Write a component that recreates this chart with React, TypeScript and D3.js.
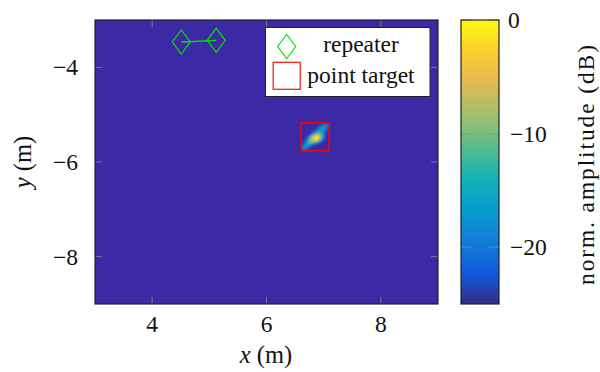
import React from 'react';
import * as d3 from 'd3';

// parula colormap (pgfplots definition)
const parulaStops = [
  '#352a87', '#0f5cdd', '#127dd8', '#079ccf', '#15b1b4',
  '#59bd8c', '#a5be6b', '#e1b952', '#fcce2e', '#f9fb0e',
];

// axis ticks
const xTicks = [4, 6, 8];
const yTicks = [-4, -6, -8];
const cbTicks = [0, -10, -20];

// repeater positions (m)
const repeaterX = [4.51, 5.12];
const repeaterY = [-3.465, -3.43];

// point target box centre (m)
const targetX = 6.85;
const targetY = -5.47;

// image patch around the target, dB values (rows top -> bottom)
const patchX0 = 6.62;
const patchY0 = -5.2;
const patchDx = 0.04;
const patchDy = 0.05;
const patchDb = [
  [-25, -25, -25, -25, -25, -25, -25, -24, -21, -18, -17, -19],
  [-25, -25, -25, -25, -25, -25, -24, -20, -17, -16, -18, -22],
  [-25, -25, -25, -25, -25, -24, -21, -17, -15, -17, -21, -25],
  [-25, -25, -25, -25, -23, -19, -15, -13, -14, -19, -24, -25],
  [-25, -25, -25, -22, -16, -10, -7, -8, -12, -19, -25, -25],
  [-25, -25, -22, -14, -7, -2, -1, -3, -10, -18, -25, -25],
  [-25, -24, -18, -10, -5, -1, -1, -6, -14, -22, -25, -25],
  [-25, -21, -14, -11, -9, -10, -13, -19, -23, -25, -25, -25],
  [-23, -17, -14, -15, -18, -22, -25, -25, -25, -25, -25, -25],
  [-19, -15, -17, -21, -24, -25, -25, -25, -25, -25, -25, -25],
  [-18, -19, -23, -25, -25, -25, -25, -25, -25, -25, -25, -25],
];

const FONT = '"Liberation Serif", "Times New Roman", serif';
const FS = 23.5;

export default function App() {
  const W = 600;
  const H = 372;
  const plot = { left: 95, top: 20, right: 438, bottom: 304 };
  const cb = { left: 461, right: 499 };

  const x = d3.scaleLinear().domain([3, 9]).range([plot.left, plot.right]);
  const y = d3.scaleLinear().domain([-9, -3]).range([plot.bottom, plot.top]);
  const cy = d3.scaleLinear().domain([-25, 0]).range([plot.bottom, plot.top]);
  const color = d3
    .scaleLinear<string>()
    .domain(parulaStops.map((_, i) => -25 + (25 * i) / (parulaStops.length - 1)))
    .range(parulaStops)
    .interpolate(d3.interpolateRgb)
    .clamp(true);

  const cells = [];
  patchDb.forEach((row, j) => {
    row.forEach((v, i) => {
      if (v <= -24.5) return;
      const x0 = patchX0 + i * patchDx;
      const y0 = patchY0 - j * patchDy;
      cells.push({ x0, x1: x0 + patchDx, y0, y1: y0 - patchDy, v });
    });
  });

  const tickLen = 7;
  const tickColor = '#8a8a8a';
  const dW = 9;
  const dH = 12;
  const diamond = (cx: number, cyy: number) =>
    `M${cx},${cyy - dH}L${cx + dW},${cyy}L${cx},${cyy + dH}L${cx - dW},${cyy}Z`;

  const green = '#00e600';
  const legend = { x: 265.5, y: 27.5, w: 164.5, h: 69 };

  return (
    <svg
      width={W}
      height={H}
      style={{ position: 'absolute', left: 0, top: 0, background: '#fff' }}
      fontFamily={FONT}
    >
      <defs>
        <linearGradient id="cbgrad" x1="0" y1="1" x2="0" y2="0">
          {parulaStops.map((c, i) => (
            <stop key={i} offset={i / (parulaStops.length - 1)} stopColor={c} />
          ))}
        </linearGradient>
        <filter id="smooth" x="-20%" y="-20%" width="140%" height="140%">
          <feGaussianBlur stdDeviation="0.8" />
        </filter>
        <clipPath id="plotclip">
          <rect x={plot.left} y={plot.top} width={plot.right - plot.left} height={plot.bottom - plot.top} />
        </clipPath>
      </defs>

      {/* image background (floor level) */}
      <rect
        x={plot.left}
        y={plot.top}
        width={plot.right - plot.left}
        height={plot.bottom - plot.top}
        fill="#3c29a6"
      />
      <g filter="url(#smooth)" clipPath="url(#plotclip)">
        {cells.map((c, k) => (
          <rect
            key={k}
            x={x(c.x0)}
            y={y(c.y0)}
            width={x(c.x1) - x(c.x0) + 0.3}
            height={y(c.y1) - y(c.y0) + 0.3}
            fill={color(c.v)}
          />
        ))}
      </g>

      {/* ticks */}
      {xTicks.map((t) => (
        <g key={'xt' + t} stroke={tickColor} strokeWidth={0.8}>
          <line x1={x(t)} x2={x(t)} y1={plot.bottom} y2={plot.bottom - tickLen} />
          <line x1={x(t)} x2={x(t)} y1={plot.top} y2={plot.top + tickLen} />
        </g>
      ))}
      {yTicks.map((t) => (
        <g key={'yt' + t} stroke={tickColor} strokeWidth={0.8}>
          <line x1={plot.left} x2={plot.left + tickLen} y1={y(t)} y2={y(t)} />
          <line x1={plot.right} x2={plot.right - tickLen} y1={y(t)} y2={y(t)} />
        </g>
      ))}

      {/* repeaters */}
      <line
        x1={x(repeaterX[0])}
        y1={y(repeaterY[0])}
        x2={x(repeaterX[1])}
        y2={y(repeaterY[1])}
        stroke={green}
        strokeWidth={1.4}
      />
      {repeaterX.map((rx, i) => (
        <path key={'rep' + i} d={diamond(x(rx), y(repeaterY[i]))} fill="none" stroke={green} strokeWidth={1.2} />
      ))}

      {/* point target */}
      <rect
        x={x(targetX) - 14}
        y={y(targetY) - 14}
        width={28}
        height={28}
        fill="none"
        stroke="#ff0000"
        strokeWidth={1.6}
      />

      {/* plot frame */}
      <rect
        x={plot.left}
        y={plot.top}
        width={plot.right - plot.left}
        height={plot.bottom - plot.top}
        fill="none"
        stroke="#222"
        strokeWidth={1.2}
      />

      {/* legend */}
      <rect x={legend.x} y={legend.y} width={legend.w} height={legend.h} fill="#fff" stroke="#222" strokeWidth={1} />
      <path d={diamond(286.7, 46.5)} fill="none" stroke={green} strokeWidth={1.2} />
      <rect x={273.2} y={62.3} width={27} height={27} fill="none" stroke="#ff2020" strokeWidth={1.3} />
      <text x={361} y={51.5} fontSize={FS} textAnchor="middle" fill="#111">repeater</text>
      <text x={361} y={83} fontSize={FS} textAnchor="middle" fill="#111">point target</text>

      {/* tick labels */}
      {xTicks.map((t) => (
        <text key={'xl' + t} x={x(t)} y={331.5} fontSize={FS} textAnchor="middle" fill="#111">
          {d3.format('')(t)}
        </text>
      ))}
      {yTicks.map((t) => (
        <text key={'yl' + t} x={78} y={y(t) + 8} fontSize={FS} textAnchor="end" fill="#111">
          {'\u2212' + Math.abs(t)}
        </text>
      ))}

      {/* axis labels */}
      <text x={266} y={363} fontSize={FS + 1} textAnchor="middle" fill="#111">
        <tspan fontStyle="italic">x</tspan> (m)
      </text>
      <text
        transform={`translate(31,${(plot.top + plot.bottom) / 2}) rotate(-90)`}
        fontSize={FS + 1}
        textAnchor="middle"
        fill="#111"
      >
        <tspan fontStyle="italic">y</tspan> (m)
      </text>

      {/* colorbar */}
      <rect
        x={cb.left}
        y={plot.top}
        width={cb.right - cb.left}
        height={plot.bottom - plot.top}
        fill="url(#cbgrad)"
      />
      {cbTicks.map((t) => (
        <g key={'cbt' + t} stroke={tickColor} strokeWidth={0.8}>
          <line x1={cb.left} x2={cb.left + tickLen + 3} y1={cy(t)} y2={cy(t)} />
          <line x1={cb.right} x2={cb.right - tickLen - 3} y1={cy(t)} y2={cy(t)} />
        </g>
      ))}
      <rect
        x={cb.left}
        y={plot.top}
        width={cb.right - cb.left}
        height={plot.bottom - plot.top}
        fill="none"
        stroke="#222"
        strokeWidth={1.2}
      />
      {cbTicks.map((t) => (
        <text key={'cbl' + t} x={t === 0 ? 508 : 510} y={cy(t) + 8} fontSize={FS} textAnchor="start" fill="#111">
          {t === 0 ? '0' : '\u2212' + Math.abs(t)}
        </text>
      ))}
      <text
        transform={`translate(594,${(plot.top + plot.bottom) / 2 + 3}) rotate(-90)`}
        fontSize={FS}
        textAnchor="middle"
        textLength={240}
        lengthAdjust="spacing"
        fill="#111"
      >
        norm. amplitude (dB)
      </text>
    </svg>
  );
}
